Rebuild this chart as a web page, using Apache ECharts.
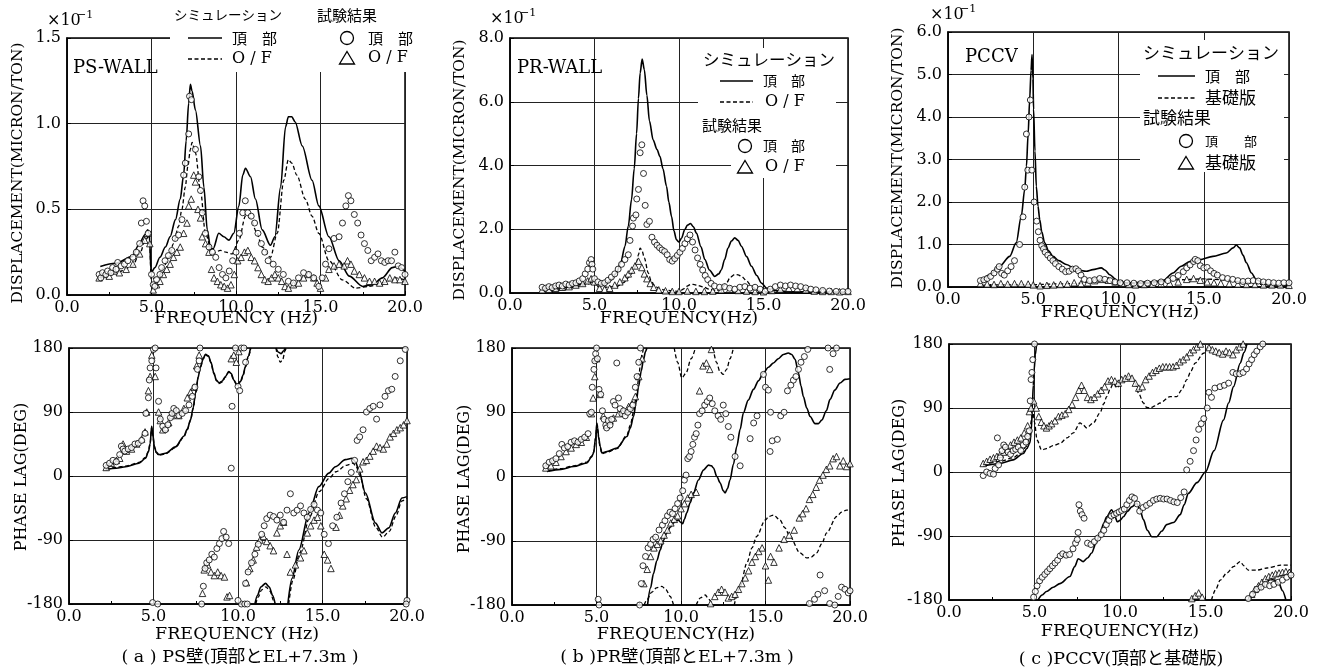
<!DOCTYPE html>
<html><head><meta charset="utf-8">
<script src="https://cdn.jsdelivr.net/npm/echarts@6/dist/echarts.min.js"></script>
<style>html,body{margin:0;padding:0;background:#fff}#c{width:1320px;height:668px}</style>
</head><body><div id="c"></div>
<script>
// ---------- tick labels ----------
const freqTicks = [0, 5, 10, 15, 20];
const ampMaxA = 1.5, ampStepA = 0.5;
const ampMaxB = 8.0, ampStepB = 2.0;
const ampMaxC = 6.0, ampStepC = 1.0;
const phaseTicks = [-180, -90, 0, 90, 180];

// ---------- (a) PS-WALL amplitude (x10^-1 micron/ton) ----------
const psAmpTopSim = [[1.97,0.166],[2.86,0.185],[3.85,0.224],[4.24,0.29],[4.6,0.35],[4.78,0.38],[4.88,0.33],[4.98,0.13],[5.2,0.16],[5.5,0.22],[5.82,0.28],[6.1,0.34],[6.42,0.44],[6.7,0.56],[6.9,0.7],[7.05,0.9],[7.2,1.12],[7.3,1.23],[7.4,1.19],[7.6,1.08],[7.9,0.87],[8.1,0.63],[8.3,0.38],[8.5,0.27],[8.65,0.27],[8.98,0.36],[9.28,0.34],[9.58,0.32],[9.87,0.36],[10.17,0.52],[10.4,0.7],[10.56,0.74],[10.86,0.69],[11.15,0.56],[11.55,0.38],[12.04,0.29],[12.3,0.34],[12.64,0.63],[12.93,0.98],[13.1,1.04],[13.3,1.04],[13.5,1.01],[13.92,0.87],[14.5,0.67],[14.9,0.52],[15.5,0.34],[16.1,0.2],[16.7,0.11],[17.5,0.05],[18.07,0.06],[18.66,0.1],[19.25,0.16],[19.55,0.166],[20,0.14]];
const psAmpOFSim = [[1.97,0.107],[2.9,0.13],[3.85,0.166],[4.3,0.24],[4.64,0.32],[4.88,0.35],[4.98,0.09],[5.2,0.1],[5.43,0.11],[5.7,0.16],[6.02,0.22],[6.3,0.3],[6.6,0.40],[6.8,0.5],[7.0,0.63],[7.15,0.75],[7.3,0.85],[7.4,0.89],[7.6,0.83],[7.9,0.61],[8.19,0.36],[8.6,0.24],[9.08,0.26],[9.4,0.25],[9.77,0.24],[10.17,0.32],[10.56,0.46],[10.86,0.45],[11.2,0.37],[11.55,0.28],[12.04,0.22],[12.44,0.36],[12.83,0.67],[13.1,0.79],[13.3,0.77],[13.6,0.7],[14.1,0.56],[14.5,0.46],[14.9,0.36],[15.5,0.2],[16.3,0.088],[17.08,0.04],[17.87,0.05],[18.66,0.07],[19.45,0.1],[20,0.088]];
const psAmpTopTest = [[1.9,0.12],[2.0,0.1],[2.1,0.13],[2.3,0.12],[2.4,0.14],[2.6,0.13],[2.7,0.16],[2.9,0.15],[3.0,0.19],[3.2,0.17],[3.4,0.18],[3.6,0.2],[3.9,0.22],[4.1,0.25],[4.3,0.3],[4.4,0.42],[4.5,0.55],[4.6,0.52],[4.7,0.43],[4.8,0.36],[5.0,0.12],[5.1,0.06],[5.2,0.05],[5.3,0.09],[5.5,0.12],[5.6,0.16],[5.8,0.2],[6.0,0.23],[6.2,0.26],[6.4,0.33],[6.6,0.35],[6.8,0.44],[6.9,0.7],[7.0,0.77],[7.2,0.94],[7.25,1.16],[7.36,1.14],[7.6,0.85],[7.8,0.69],[7.9,0.61],[8.0,0.48],[8.19,0.36],[8.4,0.28],[8.6,0.25],[8.8,0.22],[9.0,0.16],[9.2,0.12],[9.4,0.1],[9.6,0.14],[9.8,0.2],[10.0,0.25],[10.2,0.36],[10.4,0.48],[10.55,0.55],[10.7,0.48],[10.9,0.46],[11.1,0.42],[11.3,0.36],[11.5,0.3],[11.7,0.25],[11.9,0.2],[12.2,0.18],[12.5,0.15],[12.8,0.12],[13.1,0.08],[13.4,0.07],[13.7,0.1],[14.0,0.13],[14.3,0.12],[14.6,0.1],[14.9,0.05],[15.1,0.1],[15.3,0.18],[15.5,0.27],[15.8,0.33],[16.1,0.34],[16.3,0.42],[16.5,0.52],[16.65,0.58],[16.8,0.55],[17.0,0.47],[17.2,0.42],[17.4,0.35],[17.6,0.3],[17.8,0.26],[18.0,0.2],[18.2,0.22],[18.4,0.24],[18.6,0.2],[18.8,0.19],[19.0,0.2],[19.2,0.2],[19.4,0.25],[19.6,0.17],[19.8,0.16],[20.0,0.12]];
const psAmpOFTest = [[1.9,0.1],[2.2,0.12],[2.5,0.11],[2.8,0.14],[3.1,0.13],[3.5,0.15],[3.9,0.18],[4.3,0.24],[4.6,0.32],[4.75,0.36],[4.9,0.3],[5.1,0.03],[5.3,0.06],[5.5,0.08],[5.7,0.12],[5.9,0.15],[6.1,0.18],[6.3,0.22],[6.5,0.25],[6.7,0.28],[6.9,0.36],[7.1,0.42],[7.2,0.52],[7.35,0.56],[7.5,0.7],[7.6,0.66],[7.75,0.5],[7.9,0.45],[8.0,0.34],[8.2,0.3],[8.4,0.25],[8.55,0.15],[8.7,0.1],[8.9,0.08],[9.1,0.06],[9.3,0.05],[9.5,0.04],[9.7,0.06],[9.9,0.12],[10.1,0.2],[10.3,0.22],[10.5,0.25],[10.7,0.26],[10.9,0.22],[11.1,0.2],[11.3,0.16],[11.5,0.12],[11.7,0.09],[11.9,0.08],[12.1,0.1],[12.3,0.12],[12.5,0.1],[12.7,0.08],[12.9,0.05],[13.1,0.04],[13.4,0.06],[13.7,0.07],[14.0,0.1],[14.3,0.12],[14.6,0.1],[14.8,0.07],[15.0,0.04],[15.3,0.1],[15.5,0.15],[15.8,0.17],[16.1,0.18],[16.4,0.17],[16.6,0.2],[16.8,0.18],[17.0,0.14],[17.3,0.12],[17.6,0.1],[17.9,0.08],[18.2,0.08],[18.5,0.07],[18.8,0.08],[19.1,0.1],[19.4,0.09],[19.7,0.09],[20.0,0.08]];

// ---------- (b) PR-WALL amplitude ----------
const prAmpTopSim = [[1.97,0.125],[3.0,0.16],[3.74,0.21],[4.2,0.27],[4.53,0.31],[4.8,0.38],[4.93,0.42],[5.05,0.3],[5.12,0.26],[5.4,0.26],[5.71,0.31],[6.0,0.42],[6.3,0.63],[6.55,0.95],[6.8,1.46],[7.0,2.1],[7.19,2.93],[7.35,3.9],[7.49,5.0],[7.6,6.1],[7.7,6.9],[7.82,7.34],[7.95,7.0],[8.1,6.2],[8.25,5.4],[8.47,4.8],[8.7,4.5],[8.87,4.29],[9.05,3.9],[9.26,3.35],[9.4,2.85],[9.56,2.4],[9.7,1.95],[9.85,1.67],[10.0,1.6],[10.15,1.72],[10.34,1.99],[10.5,2.13],[10.68,2.18],[10.85,2.08],[11.03,1.88],[11.3,1.45],[11.53,1.05],[11.8,0.72],[12.12,0.52],[12.35,0.6],[12.51,0.73],[12.7,1.05],[12.9,1.41],[13.1,1.63],[13.3,1.73],[13.5,1.65],[13.7,1.46],[14.0,1.14],[14.29,0.84],[14.6,0.55],[14.88,0.31],[15.2,0.15],[15.57,0.08],[16.55,0.04],[18,0.03],[20,0.02]];
const prAmpOFSim = [[1.97,0.05],[3.0,0.1],[4.0,0.2],[4.6,0.28],[4.93,0.37],[5.12,0.2],[5.6,0.18],[6.3,0.2],[6.7,0.32],[7.1,0.52],[7.3,0.7],[7.49,0.94],[7.6,1.2],[7.7,1.41],[7.8,1.35],[7.95,1.1],[8.18,0.63],[8.35,0.38],[8.57,0.21],[8.9,0.12],[9.26,0.08],[10.05,0.05],[10.25,0.12],[10.44,0.21],[10.7,0.27],[10.84,0.27],[11.1,0.24],[11.43,0.19],[11.8,0.12],[12.22,0.07],[12.5,0.14],[12.8,0.31],[13.05,0.5],[13.3,0.58],[13.5,0.57],[13.7,0.52],[14.0,0.38],[14.29,0.21],[14.6,0.1],[14.98,0.04],[16,0.03],[20,0.02]];
const prAmpTopTest = [[1.9,0.18],[2.1,0.15],[2.3,0.2],[2.5,0.17],[2.7,0.22],[2.9,0.25],[3.1,0.22],[3.3,0.28],[3.5,0.25],[3.7,0.3],[3.9,0.32],[4.1,0.38],[4.3,0.45],[4.45,0.6],[4.6,0.75],[4.7,0.95],[4.8,1.05],[4.85,0.9],[4.9,0.75],[5.0,0.45],[5.2,0.35],[5.4,0.3],[5.6,0.32],[5.8,0.4],[6.0,0.5],[6.2,0.6],[6.4,0.75],[6.6,0.9],[6.8,1.05],[7.0,1.2],[7.1,1.65],[7.25,2.1],[7.3,2.35],[7.45,2.45],[7.5,2.95],[7.6,3.25],[7.7,4.4],[7.8,4.65],[7.9,3.75],[8.0,2.75],[8.1,2.15],[8.25,2.25],[8.4,1.75],[8.55,1.6],[8.7,1.5],[8.85,1.42],[9.0,1.35],[9.15,1.3],[9.3,1.2],[9.45,1.05],[9.6,1.0],[9.75,1.08],[9.9,1.18],[10.05,1.28],[10.2,1.4],[10.35,1.55],[10.5,1.7],[10.65,1.82],[10.8,1.6],[10.95,1.35],[11.1,1.1],[11.25,0.9],[11.4,0.72],[11.55,0.55],[11.7,0.42],[11.9,0.3],[12.1,0.22],[12.4,0.18],[12.7,0.2],[13.0,0.15],[13.3,0.12],[13.6,0.18],[13.9,0.2],[14.2,0.15],[14.5,0.18],[14.8,0.12],[15.1,0.05],[15.4,0.12],[15.7,0.2],[16.0,0.25],[16.3,0.22],[16.6,0.25],[16.9,0.22],[17.2,0.2],[17.5,0.16],[17.8,0.12],[18.1,0.1],[18.5,0.08],[18.9,0.06],[19.3,0.05],[19.7,0.04],[20.0,0.05]];
const prAmpOFTest = [[1.9,0.1],[2.3,0.12],[2.7,0.15],[3.1,0.18],[3.5,0.2],[3.9,0.25],[4.3,0.3],[4.6,0.38],[4.8,0.45],[5.0,0.35],[5.3,0.15],[5.6,0.12],[5.9,0.15],[6.2,0.25],[6.5,0.35],[6.8,0.48],[7.0,0.6],[7.2,0.72],[7.4,0.85],[7.6,1.0],[7.8,0.8],[7.95,0.6],[8.1,0.45],[8.3,0.3],[8.5,0.18],[8.8,0.1],[9.2,0.07],[9.6,0.05],[10.0,0.05],[10.5,0.06],[11.0,0.05],[11.5,0.05],[12.0,0.06],[12.5,0.1],[13.0,0.12],[13.5,0.08],[14.0,0.06],[14.5,0.05],[15.0,0.04],[15.5,0.08],[16.0,0.12],[16.5,0.15],[17.0,0.14],[17.5,0.1],[18.0,0.06],[18.5,0.05],[19.0,0.05],[19.5,0.04],[20.0,0.05]];

// ---------- (c) PCCV amplitude ----------
const pcAmpTopSim = [[1.95,0.13],[2.44,0.29],[3.03,0.49],[3.62,0.72],[4.0,1.04],[4.3,1.67],[4.5,2.3],[4.6,2.84],[4.7,3.6],[4.79,4.41],[4.87,5.1],[4.93,5.47],[4.98,4.9],[5.02,4.18],[5.1,3.2],[5.18,2.37],[5.28,1.9],[5.38,1.59],[5.5,1.3],[5.67,1.04],[5.9,0.85],[6.16,0.72],[6.5,0.62],[6.94,0.53],[7.53,0.41],[8.11,0.37],[8.5,0.41],[8.99,0.45],[9.2,0.4],[9.48,0.29],[9.97,0.13],[10.65,0.09],[11.63,0.09],[12.61,0.15],[13.2,0.33],[13.68,0.49],[14.17,0.6],[14.76,0.64],[15.54,0.72],[16.32,0.8],[16.72,0.92],[16.91,0.99],[17.1,0.92],[17.3,0.75],[17.5,0.57],[17.8,0.33],[18.08,0.17],[18.67,0.055],[20,0.03]];
const pcAmpOFSim = [[1.95,0.04],[3,0.05],[4.93,0.05],[6,0.07],[7.5,0.08],[8.9,0.16],[9.5,0.12],[10.5,0.1],[12,0.12],[13.6,0.17],[15,0.19],[16.2,0.17],[17.5,0.1],[18.5,0.06],[20,0.04]];
const pcAmpTopTest = [[1.9,0.15],[2.1,0.17],[2.3,0.2],[2.5,0.25],[2.7,0.33],[2.9,0.42],[3.0,0.48],[3.15,0.32],[3.3,0.28],[3.5,0.38],[3.7,0.48],[3.9,0.62],[4.2,1.0],[4.4,1.65],[4.5,2.35],[4.6,3.6],[4.68,2.75],[4.75,4.0],[4.83,4.4],[4.92,2.75],[5.05,2.0],[5.2,1.55],[5.3,1.3],[5.4,1.1],[5.5,0.97],[5.6,0.9],[5.7,0.82],[5.85,0.75],[6.0,0.68],[6.15,0.62],[6.3,0.55],[6.5,0.48],[6.7,0.42],[6.9,0.36],[7.1,0.37],[7.3,0.42],[7.5,0.43],[7.65,0.38],[7.8,0.28],[8.0,0.18],[8.3,0.15],[8.6,0.17],[8.9,0.2],[9.2,0.18],[9.5,0.15],[9.8,0.12],[10.1,0.1],[10.5,0.1],[10.9,0.09],[11.3,0.08],[11.7,0.09],[12.1,0.1],[12.5,0.12],[12.9,0.15],[13.2,0.2],[13.5,0.27],[13.8,0.36],[14.0,0.45],[14.2,0.52],[14.4,0.6],[14.5,0.65],[14.65,0.62],[14.8,0.5],[15.0,0.45],[15.2,0.46],[15.4,0.38],[15.6,0.32],[15.8,0.28],[16.1,0.22],[16.4,0.2],[16.7,0.18],[17.0,0.15],[17.3,0.13],[17.6,0.14],[17.9,0.15],[18.2,0.14],[18.5,0.12],[18.8,0.11],[19.1,0.1],[19.4,0.09],[19.7,0.1],[20.0,0.1]];
const pcAmpOFTest = [[1.9,0.08],[2.3,0.07],[2.7,0.06],[3.1,0.08],[3.5,0.07],[3.9,0.08],[4.3,0.08],[4.7,0.07],[5.0,0.05],[5.4,0.03],[5.8,0.04],[6.2,0.05],[6.6,0.06],[7.0,0.07],[7.4,0.1],[7.8,0.08],[8.2,0.1],[8.6,0.15],[9.0,0.18],[9.4,0.16],[9.8,0.12],[10.2,0.09],[10.6,0.06],[11.0,0.05],[11.5,0.06],[12.0,0.07],[12.5,0.08],[13.0,0.09],[13.5,0.12],[14.0,0.18],[14.4,0.2],[14.8,0.16],[15.2,0.12],[15.6,0.1],[16.0,0.09],[16.5,0.08],[17.0,0.07],[17.5,0.06],[18.0,0.06],[18.5,0.05],[19.0,0.05],[19.5,0.05],[20.0,0.04]];

// ---------- (a) PS-WALL phase lag (deg); null = wrap break ----------
const psPhTopSim = [[2.17,9],[2.8,11],[3.35,13],[4.14,18],[4.53,25],[4.7,34],[4.8,45],[4.89,70],[4.96,58],[5.05,42],[5.15,34],[5.32,30],[5.71,32],[6.3,41],[6.8,56],[7.0,66],[7.19,79],[7.35,96],[7.49,117],[7.65,140],[7.78,154],[7.95,166],[8.08,171],[8.25,169],[8.4,160],[8.57,145],[8.72,135],[8.87,131],[9.05,133],[9.26,140],[9.45,147],[9.6,144],[9.75,135],[9.95,128],[10.15,133],[10.3,142],[10.44,154],[10.6,168],[10.74,180],[10.85,null],[11.0,-180],[11.15,-168],[11.35,-156],[11.63,-151],[11.85,-156],[12.05,-168],[12.2,-180],[12.22,null],[12.25,180],[12.4,174],[12.55,172],[12.7,176],[12.8,180],[12.85,null],[12.95,-180],[13.2,-144],[13.6,-104],[14.2,-52],[14.78,-15],[15.37,4],[15.76,13],[16.35,23],[16.75,25],[16.95,20],[17.14,9],[17.54,-24],[18.13,-66],[18.52,-80],[18.92,-73],[19.31,-52],[19.7,-31],[20,-29]];
const psPhOFSim = [[2.17,10],[2.8,12],[3.35,14],[4.14,19],[4.53,26],[4.7,35],[4.8,46],[4.89,68],[4.96,57],[5.05,41],[5.15,33],[5.32,29],[5.71,31],[6.3,40],[6.8,55],[7.0,65],[7.19,78],[7.35,95],[7.49,116],[7.65,139],[7.78,153],[7.95,165],[8.08,170],[8.25,168],[8.4,159],[8.57,144],[8.72,134],[8.87,130],[9.05,132],[9.26,139],[9.45,146],[9.6,143],[9.75,134],[9.95,127],[10.15,132],[10.3,141],[10.44,153],[10.6,167],[10.76,180],[10.9,null],[11.05,-180],[11.2,-170],[11.4,-160],[11.65,-156],[11.9,-162],[12.1,-175],[12.15,-180],[12.2,null],[12.25,180],[12.35,168],[12.5,160],[12.65,164],[12.78,176],[12.85,180],[12.9,null],[13.0,-180],[13.25,-146],[13.65,-108],[14.25,-57],[14.8,-22],[15.4,-3],[15.8,6],[16.4,15],[16.8,18],[17.0,13],[17.2,1],[17.6,-32],[18.15,-72],[18.55,-86],[18.95,-78],[19.35,-56],[19.7,-35],[20,-31]];
const psPhTopTest = [[2.2,15],[2.4,18],[2.6,22],[2.8,20],[3.0,30],[3.1,42],[3.2,38],[3.3,35],[3.5,38],[3.7,40],[3.9,45],[4.1,46],[4.3,50],[4.5,60],[4.55,88],[4.7,110],[4.75,135],[4.8,152],[4.9,162],[5.0,178],[5.1,180],[5.15,152],[5.3,105],[5.4,80],[5.55,70],[5.7,65],[5.85,72],[6.0,82],[6.1,88],[6.2,95],[6.35,92],[6.5,85],[6.7,88],[6.9,92],[7.1,100],[7.3,112],[7.45,125],[7.6,150],[7.7,162],[7.75,180],[4.95,-178],[5.25,-180],[7.85,-180],[7.95,-155],[8.05,-130],[8.15,-122],[8.3,-118],[8.45,-110],[8.6,-114],[8.75,-102],[8.9,-95],[9.05,-88],[9.15,-78],[9.3,-86],[9.45,-95],[9.6,11],[9.65,98],[9.85,180],[10.0,126],[10.1,120],[10.2,180],[10.35,180],[10.45,160],[10.2,-180],[10.4,-180],[10.55,-180],[10.0,-175],[10.45,-151],[10.6,-135],[10.8,-122],[11.0,-110],[11.2,-96],[11.4,-82],[11.55,-70],[11.7,-60],[11.9,-55],[12.1,-57],[12.3,-62],[12.5,-55],[12.7,-65],[12.9,-48],[13.1,-25],[13.3,-52],[13.5,-48],[13.7,-42],[13.9,-52],[14.1,-58],[14.3,-47],[14.5,-40],[14.7,-48],[14.9,-52],[15.1,-82],[15.35,-95],[15.6,-70],[15.85,-58],[16.1,-38],[16.3,-25],[16.5,-8],[16.7,5],[16.9,22],[17.05,50],[17.2,55],[17.4,65],[17.6,90],[17.8,95],[18.0,98],[18.2,80],[18.4,100],[18.7,112],[18.9,120],[19.1,122],[19.3,140],[19.6,162],[19.9,178],[20.0,-175],[19.95,-180]];
const psPhOFTest = [[2.2,12],[2.5,18],[2.8,22],[3.0,25],[3.2,45],[3.4,35],[3.7,38],[4.0,45],[4.3,52],[4.5,62],[4.6,90],[4.7,120],[4.8,140],[4.9,170],[5.1,140],[5.3,90],[5.4,78],[5.55,65],[5.7,68],[5.9,75],[6.1,85],[6.3,90],[6.5,85],[6.8,95],[7.0,110],[7.2,118],[7.4,125],[7.55,155],[7.7,170],[7.9,-165],[8.0,-132],[8.2,-125],[8.4,-135],[8.6,-140],[8.8,-135],[9.0,-140],[9.2,-142],[9.35,-170],[9.5,-168],[9.6,165],[9.75,170],[9.9,160],[10.05,175],[10.5,-150],[10.7,-130],[10.9,-118],[11.1,-100],[11.3,-90],[11.5,-85],[11.7,-92],[11.9,-98],[12.1,-105],[12.3,-80],[12.5,-70],[12.7,-65],[12.9,-110],[13.1,-135],[13.4,-125],[13.7,-115],[13.9,-105],[14.1,-80],[14.3,-70],[14.5,-62],[14.7,-58],[14.9,-70],[15.1,-110],[15.3,-118],[15.5,-130],[15.8,-72],[16.0,-55],[16.2,-42],[16.4,-32],[16.6,-20],[16.8,-12],[17.0,-5],[17.2,10],[17.4,20],[17.6,22],[17.8,28],[18.0,35],[18.2,42],[18.4,40],[18.6,38],[18.8,45],[19.0,55],[19.2,60],[19.4,65],[19.6,68],[19.8,72],[20.0,78]];

// ---------- (b) PR-WALL phase lag ----------
const prPhTopSim = [[2.07,7],[2.9,10],[3.65,14],[4.43,19],[4.7,27],[4.83,33],[4.95,55],[5.02,75],[5.07,68],[5.12,56],[5.22,42],[5.32,33],[5.62,35],[6.21,40],[6.8,56],[7.0,68],[7.19,84],[7.35,104],[7.49,126],[7.65,148],[7.78,164],[7.9,175],[7.98,180],[8.0,null],[8.02,-180],[8.2,-156],[8.37,-136],[8.57,-118],[8.77,-103],[8.95,-90],[9.16,-79],[9.36,-71],[9.56,-65],[9.7,-62],[9.85,-61],[9.97,-64],[10.1,-66],[10.2,-60],[10.34,-51],[10.54,-37],[10.74,-23],[11.03,-5],[11.33,9],[11.63,16],[11.8,15],[11.92,12],[12.12,0],[12.32,-9],[12.5,-20],[12.61,-23],[12.75,-17],[12.9,-5],[13.1,17],[13.3,42],[13.5,66],[13.69,89],[13.98,107],[14.29,122],[14.58,134],[14.88,145],[15.17,153],[15.47,159],[15.76,165],[16.06,171],[16.35,173],[16.55,171],[16.75,164],[16.95,145],[17.1,127],[17.24,112],[17.44,96],[17.64,84],[17.93,74],[18.13,74],[18.33,79],[18.6,92],[18.82,108],[19.1,121],[19.41,131],[19.7,136],[20,137]];
const prPhOFSim = [[2.07,8],[2.9,11],[3.65,15],[4.43,20],[4.7,28],[4.83,34],[4.95,54],[5.02,72],[5.07,65],[5.12,54],[5.22,40],[5.32,32],[5.62,34],[6.21,39],[6.8,58],[7.0,72],[7.19,90],[7.35,112],[7.49,136],[7.6,158],[7.7,172],[7.78,180],[7.8,null],[7.82,-180],[8.0,-172],[8.27,-162],[8.55,-156],[8.87,-154],[9.1,-158],[9.36,-168],[9.56,-180],[9.58,null],[9.6,180],[9.8,160],[10.05,138],[10.3,145],[10.6,165],[10.85,180],[10.87,null],[10.9,-180],[11.15,-170],[11.43,-166],[11.65,-172],[11.85,-180],[11.87,null],[11.9,180],[12.1,160],[12.3,147],[12.5,143],[12.7,150],[12.9,165],[13.1,180],[13.12,null],[13.15,-180],[13.5,-154],[13.9,-121],[14.2,-100],[14.48,-84],[14.98,-61],[15.2,-56],[15.47,-54],[15.86,-61],[16.15,-72],[16.45,-84],[17.04,-107],[17.44,-114],[17.7,-113],[18.03,-107],[18.33,-94],[18.62,-79],[19.21,-56],[19.5,-50],[19.8,-47],[20,-48]];
const prPhTopTest = [[2.0,15],[2.2,20],[2.4,22],[2.6,25],[2.8,32],[2.95,45],[3.1,40],[3.3,42],[3.5,48],[3.7,50],[3.9,48],[4.1,52],[4.3,55],[4.5,60],[4.6,88],[4.7,90],[4.75,125],[4.85,150],[4.9,162],[4.95,172],[5.0,180],[5.05,165],[5.15,122],[5.25,115],[5.35,92],[5.45,80],[5.55,72],[5.6,68],[5.7,78],[5.8,72],[5.9,80],[6.0,105],[6.1,100],[6.2,159],[6.3,110],[6.4,95],[6.5,88],[6.6,92],[6.7,85],[6.85,90],[7.0,95],[7.15,100],[7.3,125],[7.4,140],[7.5,160],[7.6,180],[5.1,-172],[5.15,-180],[7.55,-180],[7.65,-150],[7.75,-125],[7.9,-112],[8.05,-100],[8.2,-95],[8.35,-88],[8.5,-85],[8.7,-75],[8.9,-68],[9.05,-62],[9.2,-55],[9.35,-50],[9.5,-52],[9.65,-45],[9.8,-38],[9.95,-30],[10.1,-20],[10.2,-5],[10.3,2],[10.4,25],[10.5,28],[10.6,35],[10.7,45],[10.8,55],[10.9,60],[11.0,72],[11.1,88],[11.25,92],[11.4,100],[11.55,105],[11.7,110],[11.85,102],[12.0,92],[12.2,85],[12.35,80],[12.5,100],[12.65,88],[12.8,70],[12.95,55],[13.2,28],[13.5,15],[14.09,53],[14.3,75],[14.5,85],[14.88,143],[15.0,125],[15.17,121],[15.3,90],[15.4,50],[15.27,35],[15.7,52],[15.9,85],[16.1,90],[16.3,120],[16.5,128],[16.65,135],[16.8,140],[16.95,150],[17.1,160],[17.3,168],[17.5,178],[18.7,180],[18.8,150],[19.0,172],[19.2,180],[17.6,-178],[17.9,-172],[18.1,-165],[18.23,-138],[18.5,-160],[18.8,-178],[19.1,-180],[19.3,-168],[19.5,-155],[19.7,-158],[19.9,-163],[20.0,-160]];
const prPhOFTest = [[2.0,12],[2.3,15],[2.6,20],[2.9,28],[3.2,35],[3.5,40],[3.8,45],[4.1,48],[4.4,55],[4.7,88],[4.8,110],[4.9,140],[5.0,165],[5.2,115],[5.4,85],[5.6,72],[5.8,78],[6.0,82],[6.3,88],[6.6,92],[6.9,98],[7.1,102],[7.3,112],[7.5,140],[7.7,165],[7.8,-150],[8.0,-130],[8.2,-112],[8.4,-100],[8.6,-95],[8.8,-90],[9.0,-82],[9.2,-75],[9.4,-65],[9.6,-60],[9.8,-55],[10.0,-45],[10.2,-38],[10.4,-30],[10.6,-25],[10.9,-22],[11.1,120],[11.3,155],[11.5,159],[11.7,150],[11.8,178],[11.75,-178],[12.0,-168],[12.2,-162],[12.4,-158],[12.6,-162],[12.8,-170],[13.0,-168],[13.2,-165],[13.4,-158],[13.6,-150],[13.8,-142],[14.0,-132],[14.2,-120],[14.4,-112],[14.6,-105],[14.8,-100],[15.0,-125],[15.17,-145],[15.3,-112],[15.5,-120],[15.8,-100],[16.1,-88],[16.4,-82],[16.7,-75],[17.0,-58],[17.2,-52],[17.4,-45],[17.6,-32],[17.8,-25],[18.0,-15],[18.2,-5],[18.4,2],[18.6,10],[18.8,15],[19.0,25],[19.2,28],[19.4,15],[19.6,22],[19.8,14],[20.0,18]];

// ---------- (c) PCCV phase lag ----------
const pcPhTopSim = [[1.99,8],[2.97,12],[3.75,17],[4.34,26],[4.55,33],[4.73,41],[4.82,60],[4.88,97],[4.93,122],[4.98,144],[5.05,165],[5.12,180],[5.15,null],[5.21,-180],[5.45,-173],[5.7,-168],[6.1,-162],[6.48,-157],[7.07,-147],[7.35,-133],[7.56,-122],[7.85,-126],[8.1,-121],[8.34,-114],[8.6,-100],[8.83,-86],[9.05,-72],[9.22,-63],[9.51,-53],[9.7,-62],[9.84,-70],[10.0,-68],[10.2,-63],[10.45,-55],[10.68,-49],[10.98,-44],[11.15,-52],[11.37,-67],[11.6,-82],[11.86,-91],[12.15,-91],[12.45,-83],[12.73,-74],[13.13,-71],[13.52,-60],[13.75,-46],[14.0,-30],[14.5,-15],[15.0,0],[15.5,30],[16.05,73],[16.35,97],[16.64,120],[17.03,153],[17.25,168],[17.42,180],[17.5,null],[17.6,-180],[17.9,-168],[18.2,-162],[18.5,-155],[18.8,-151],[19.05,-152],[19.3,-157],[19.5,-167],[19.7,-180]];
const pcPhOFSim = [[1.99,10],[2.97,15],[3.75,20],[4.2,27],[4.53,36],[4.7,50],[4.82,73],[4.92,83],[5.0,70],[5.15,45],[5.41,31],[5.7,33],[6.1,37],[6.48,40],[6.9,48],[7.27,55],[7.66,69],[7.85,66],[8.05,62],[8.44,69],[8.83,83],[9.05,96],[9.22,106],[9.45,118],[9.61,125],[9.84,118],[10.0,124],[10.2,130],[10.59,135],[10.75,132],[10.88,125],[11.1,110],[11.37,97],[11.55,91],[11.76,90],[12.05,93],[12.34,97],[12.93,106],[13.32,106],[13.6,115],[13.91,130],[14.15,142],[14.39,153],[14.88,167],[15.27,180],[15.3,null],[15.35,-180],[15.6,-165],[15.86,-152],[16.25,-142],[16.64,-133],[17.03,-126],[17.25,-132],[17.5,-138],[17.99,-138],[18.6,-135],[19.4,-131],[20,-131]];
const pcPhTopTest = [[2.0,-5],[2.2,0],[2.4,-2],[2.6,-3],[2.7,5],[2.83,48],[2.9,10],[3.0,20],[3.1,30],[3.2,38],[3.3,35],[3.45,28],[3.6,25],[3.75,30],[3.9,32],[4.05,35],[4.2,30],[4.35,38],[4.5,42],[4.6,50],[4.7,58],[4.75,100],[4.8,130],[4.85,140],[4.9,158],[5.0,180],[4.95,-176],[5.05,-168],[5.15,-160],[5.3,-153],[5.45,-148],[5.6,-144],[5.75,-140],[5.9,-136],[6.05,-132],[6.2,-128],[6.35,-124],[6.5,-118],[6.65,-115],[6.85,-117],[7.05,-116],[7.25,-108],[7.4,-100],[7.5,-95],[7.6,-46],[7.68,-55],[7.78,-60],[7.9,-65],[7.55,-85],[8.1,-100],[8.3,-102],[8.5,-98],[8.7,-93],[8.9,-88],[9.05,-82],[9.2,-74],[9.35,-68],[9.5,-62],[9.65,-60],[9.8,-58],[9.95,-56],[10.1,-54],[10.25,-52],[10.4,-46],[10.55,-40],[10.7,-35],[10.85,-37],[11.0,-45],[11.15,-55],[11.35,-50],[11.55,-47],[11.75,-44],[11.95,-40],[12.15,-38],[12.35,-37],[12.55,-38],[12.75,-38],[12.95,-40],[13.15,-42],[13.35,-43],[13.55,-36],[13.75,-28],[13.9,3],[14.1,15],[14.3,30],[14.45,45],[14.6,60],[14.75,68],[14.9,75],[15.1,90],[15.2,112],[15.35,105],[15.55,118],[15.85,120],[16.1,122],[16.35,125],[16.6,140],[16.8,138],[17.0,138],[17.2,140],[17.4,145],[17.55,152],[17.7,158],[17.85,165],[18.0,170],[18.2,176],[18.35,180],[17.5,-178],[17.75,-172],[18.0,-165],[18.25,-162],[18.5,-158],[18.75,-160],[19.0,-158],[19.25,-155],[19.5,-152],[19.75,-148],[20.0,-145]];
const pcPhOFTest = [[2.0,12],[2.2,15],[2.4,18],[2.6,20],[2.8,22],[3.0,25],[3.2,28],[3.4,32],[3.6,38],[3.8,42],[4.0,45],[4.2,48],[4.4,55],[4.6,65],[4.7,85],[4.8,90],[4.95,100],[5.1,90],[5.25,78],[5.4,70],[5.55,65],[5.7,62],[5.85,65],[6.0,68],[6.2,72],[6.4,78],[6.6,80],[6.8,82],[7.0,88],[7.2,95],[7.4,105],[7.6,115],[7.75,122],[7.9,115],[8.1,105],[8.3,102],[8.5,105],[8.7,110],[8.9,115],[9.1,120],[9.3,128],[9.5,130],[9.7,128],[9.9,125],[10.1,130],[10.3,132],[10.5,135],[10.7,132],[10.9,125],[11.1,118],[11.3,120],[11.5,130],[11.7,135],[11.9,140],[12.1,143],[12.3,146],[12.5,148],[12.7,148],[12.9,148],[13.1,148],[13.3,150],[13.5,155],[13.7,158],[13.9,162],[14.1,168],[14.3,172],[14.5,176],[14.7,180],[15.2,175],[15.4,172],[15.6,170],[15.8,168],[16.0,166],[16.2,170],[16.4,168],[16.6,165],[16.8,172],[17.0,176],[17.2,180],[14.2,-178],[14.4,-174],[14.6,-170],[14.8,-176],[17.7,-172],[17.9,-165],[18.1,-160],[18.3,-155],[18.5,-150],[18.7,-147],[18.9,-145],[19.1,-143],[19.3,-142],[19.5,-141],[19.7,-140],[19.9,-141]];

// ---------- build ----------
const SERIF = '"DejaVu Serif","Noto Sans CJK JP",serif';
const CJK = '"Noto Sans CJK JP","DejaVu Serif",sans-serif';
const grids = [
  {left:67, top:38, width:338, height:257},
  {left:510, top:38, width:338, height:255},
  {left:948, top:32, width:341, height:255},
  {left:69, top:348, width:338, height:256},
  {left:512, top:348, width:338, height:257},
  {left:949, top:344, width:342, height:256}
].map(g => Object.assign(g, {show:true, borderColor:'#000', borderWidth:1.5, backgroundColor:'transparent'}));

const xAxes = grids.map((g, i) => ({
  type:'value', gridIndex:i, min:freqTicks[0], max:freqTicks[freqTicks.length-1], interval:5,
  axisLine:{show:true, onZero:false, lineStyle:{color:'#000', width:1.5}},
  axisTick:{show:true, inside:true, length:4, lineStyle:{color:'#000'}},
  minorTick:{show:true, splitNumber:2, length:3, lineStyle:{color:'#000'}},
  splitLine:{show:true, lineStyle:{color:'#222', width:1}},
  axisLabel:{show:true, showMinLabel:true, showMaxLabel:true, color:'#000', fontFamily:SERIF, fontSize:16, margin:5, formatter:v => v.toFixed(1)}
}));
const ampSpec = [[ampMaxA, ampStepA],[ampMaxB, ampStepB],[ampMaxC, ampStepC]];
const yAxes = grids.map((g, i) => {
  const base = {
    type:'value', gridIndex:i,
    axisLine:{show:true, onZero:false, lineStyle:{color:'#000', width:1.5}},
    axisTick:{show:true, inside:true, length:4, lineStyle:{color:'#000'}},
    splitLine:{show:true, lineStyle:{color:'#222', width:1}},
    axisLabel:{show:true, showMinLabel:true, showMaxLabel:true, color:'#000', fontFamily:SERIF, fontSize:16, margin:6}
  };
  if (i < 3) {
    base.min = 0; base.max = ampSpec[i][0]; base.interval = ampSpec[i][1];
    base.axisLabel.formatter = v => v.toFixed(1);
  } else {
    base.min = phaseTicks[0]; base.max = phaseTicks[phaseTicks.length-1]; base.interval = 90;
    base.axisLabel.formatter = v => String(v);
  }
  return base;
});

const fix = arr => arr.map(p => [p[0], p[1] === null ? '-' : p[1]]);
function lineS(i, data, dashed) {
  return {type:'line', xAxisIndex:i, yAxisIndex:i, data:fix(data), showSymbol:false, symbol:'none',
    smooth:0.3, smoothMonotone:'x', connectNulls:false, silent:true, z:3,
    lineStyle:{color:'#000', width:dashed ? 1.3 : 1.6, type: dashed ? [4,2.5] : 'solid'}};
}
function dotS(i, data, tri) {
  return {type:'scatter', xAxisIndex:i, yAxisIndex:i, data:data, symbol: tri ? 'triangle' : 'circle',
    symbolSize: tri ? 6.5 : 6, silent:true, z:4,
    itemStyle:{color:'#fff', borderColor:'#000', borderWidth:1}};
}
const panels = [
  [psAmpTopSim, psAmpOFSim, psAmpTopTest, psAmpOFTest],
  [prAmpTopSim, prAmpOFSim, prAmpTopTest, prAmpOFTest],
  [pcAmpTopSim, pcAmpOFSim, pcAmpTopTest, pcAmpOFTest],
  [psPhTopSim, psPhOFSim, psPhTopTest, psPhOFTest],
  [prPhTopSim, prPhOFSim, prPhTopTest, prPhOFTest],
  [pcPhTopSim, pcPhOFSim, pcPhTopTest, pcPhOFTest]
];
const series = [];
panels.forEach((p, i) => {
  series.push(lineS(i, p[1], true));
  series.push(lineS(i, p[0], false));
  series.push(dotS(i, p[3], true));
  series.push(dotS(i, p[2], false));
});

// ---------- graphic texts ----------
const G = [];
function T(x, y, text, size, opt) {
  opt = opt || {};
  G.push({type:'text', x:x, y:y, rotation:opt.rot || 0, z:10,
    style:{text:text, font:(size)+'px ' + (opt.font || SERIF), fill:'#000',
      textAlign:opt.align || 'left', textVerticalAlign:'middle'}});
}
function R(x, y, w, h) { G.push({type:'rect', z:1, shape:{x:x, y:y, width:w, height:h}, style:{fill:'#fff'}}); }
function L(x1, x2, y, dashed) { G.push({type:'line', z:10, shape:{x1:x1, y1:y, x2:x2, y2:y}, style:{stroke:'#000', lineWidth:dashed?1.3:1.6, lineDash: dashed ? [4,2.5] : null}}); }
function C(x, y) { G.push({type:'circle', z:10, shape:{cx:x, cy:y, r:6.5}, style:{fill:'#fff', stroke:'#000', lineWidth:1.3}}); }
function TR(x, y) { G.push({type:'polygon', z:10, shape:{points:[[x, y-6.5],[x+7.5, y+6],[x-7.5, y+6]]}, style:{fill:'#fff', stroke:'#000', lineWidth:1.3}}); }

// white boxes behind legends
R(170, 28, 255, 44);
R(698, 48, 138, 104); R(731, 150, 105, 28);
R(1140, 40, 144, 132);

// x10^-1
[[47,21],[490,19],[930,15]].forEach(p => { T(p[0], p[1], '\u00d710', 16); T(p[0]+30, p[1]-6, '\u22121', 11); });

// axis names
T(18, 173, 'DISPLACEMENT(MICRON/TON)', 15.5, {rot:Math.PI/2, align:'center'});
T(460, 170, 'DISPLACEMENT(MICRON/TON)', 15.5, {rot:Math.PI/2, align:'center'});
T(898, 158, 'DISPLACEMENT(MICRON/TON)', 15.5, {rot:Math.PI/2, align:'center'});
T(22, 477, 'PHASE LAG(DEG)', 16, {rot:Math.PI/2, align:'center'});
T(465, 479, 'PHASE LAG(DEG)', 16, {rot:Math.PI/2, align:'center'});
T(900, 473, 'PHASE LAG(DEG)', 16, {rot:Math.PI/2, align:'center'});
T(236, 318, 'FREQUENCY (Hz)', 17.5, {align:'center'});
T(679, 318, 'FREQUENCY(Hz)', 17.5, {align:'center'});
T(1120, 312, 'FREQUENCY(Hz)', 17.5, {align:'center'});
T(237, 634, 'FREQUENCY (Hz)', 17.5, {align:'center'});
T(676, 634, 'FREQUENCY(Hz)', 17.5, {align:'center'});
T(1120, 631, 'FREQUENCY(Hz)', 17.5, {align:'center'});

// captions
T(240, 657, '( a ) PS壁(頂部とEL+7.3m )', 17.5, {align:'center'});
T(677, 657, '( b )PR壁(頂部とEL+7.3m )', 17.5, {align:'center'});
T(1121, 659, '( c )PCCV(頂部と基礎版)', 17.5, {align:'center'});

// panel names
T(73, 68, 'PS-WALL', 18);
T(517, 68, 'PR-WALL', 18);
T(965, 57, 'PCCV', 18);

// legend (a)
T(174, 15, 'シミュレーション', 13.5, {font:CJK});
L(188, 222, 38, false); T(232, 38, '頂　部', 15, {font:CJK});
L(188, 222, 59, true);  T(232, 59, 'O / F', 16);
T(317, 15, '試験結果', 15, {font:CJK});
C(347, 38); T(368, 38, '頂　部', 15, {font:CJK});
TR(347, 58); T(368, 58, 'O / F', 16);

// legend (b)
T(703, 60, 'シミュレーション', 16.5, {font:CJK});
L(720, 753, 81, false); T(763, 81, '頂　部', 14, {font:CJK});
L(720, 753, 102, true); T(765, 102, 'O / F', 16);
T(702, 125, '試験結果', 15, {font:CJK});
C(745, 146); T(763, 146, '頂　部', 14, {font:CJK});
TR(745, 167); T(765, 167, 'O / F', 16);

// legend (c)
T(1143, 53, 'シミュレーション', 17, {font:CJK});
L(1158, 1195, 76, false); T(1205, 76, '頂　部', 15, {font:CJK});
L(1158, 1195, 98, true);  T(1205, 98, '基礎版', 17, {font:CJK});
T(1143, 118, '試験結果', 17, {font:CJK});
C(1186, 141); T(1205, 141, '頂　　部', 13, {font:CJK});
TR(1186, 163); T(1205, 163, '基礎版', 17, {font:CJK});

const chart = echarts.init(document.getElementById('c'), null, {renderer:'canvas'});
chart.setOption({
  animation:false,
  backgroundColor:'#fff',
  textStyle:{fontFamily:SERIF},
  grid:grids, xAxis:xAxes, yAxis:yAxes, series:series,
  graphic:{elements:G}
});
</script>
</body></html>
